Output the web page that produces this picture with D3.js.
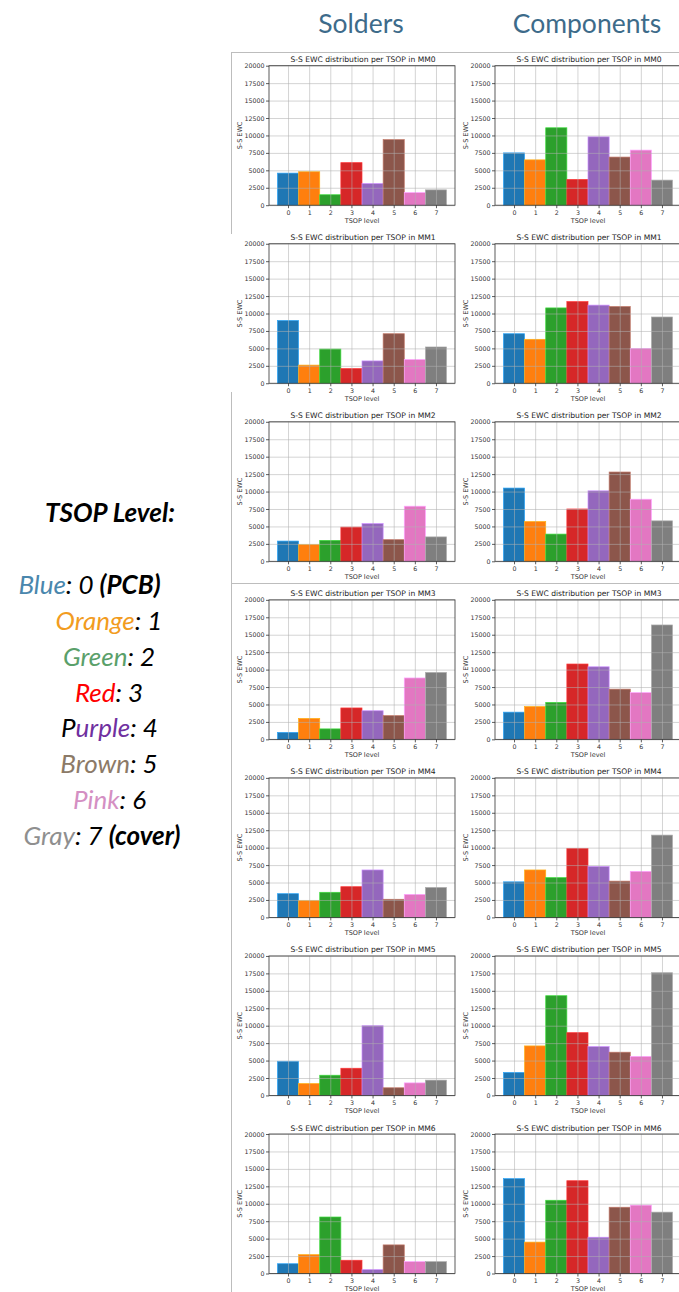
<!DOCTYPE html>
<html>
<head>
<meta charset="utf-8">
<script src="https://cdn.jsdelivr.net/npm/d3@7"></script>
<style>
body { margin: 0; background: #fff; }
svg { display: block; }
.tick text { font-family: "DejaVu Sans", sans-serif; font-size: 6.3px; fill: #333; }
</style>
</head>
<body>
<div id="chart-area"></div>
<script>
// TSOP levels on the x axis of every panel
var levels = [0, 1, 2, 3, 4, 5, 6, 7];
var mmNames = ["MM0", "MM1", "MM2", "MM3", "MM4", "MM5", "MM6"];
var yTicks = [0, 2500, 5000, 7500, 10000, 12500, 15000, 17500, 20000];
var columnTitles = ["Solders", "Components"];

// S-S EWC per TSOP level, one row per MM
var solders = [
    [4600, 4800, 1500, 6100, 3100, 9400, 1800, 2200],
    [9000, 2600, 4900, 2100, 3200, 7100, 3400, 5200],
    [2900, 2400, 3000, 4900, 5400, 3100, 7900, 3500],
    [1000, 3000, 1500, 4500, 4100, 3400, 8800, 9600],
    [3400, 2400, 3600, 4400, 6800, 2600, 3300, 4300],
    [4900, 1700, 2900, 3900, 10000, 1100, 1800, 2200],
    [1400, 2700, 8100, 1900, 550, 4100, 1700, 1700]
];
var components = [
    [7500, 6500, 11100, 3700, 9800, 6900, 7900, 3600],
    [7100, 6300, 10800, 11700, 11200, 11000, 5000, 9500],
    [10500, 5700, 3900, 7500, 10100, 12800, 8900, 5800],
    [3900, 4700, 5300, 10800, 10400, 7200, 6700, 16400],
    [5100, 6800, 5700, 9900, 7300, 5200, 6600, 11800],
    [3300, 7100, 14300, 9000, 7000, 6200, 5600, 17600],
    [13600, 4500, 10500, 13300, 5200, 9500, 9800, 8800]
];

var legendNames = ["Blue", "Orange", "Green", "Red", "Purple", "Brown", "Pink", "Gray"];
var legendNotes = ["(PCB)", "", "", "", "", "", "", "(cover)"];

// styles
var barColors = d3.schemeCategory10;
var legendColors = ["#4a87ad", "#f29c1f", "#5aa06a", "#ff0000", "#7030a0", "#8c7a67", "#d48fc3", "#8f8f8f"];

var width = 679;
var height = 1292;

var svg = d3.select("#chart-area")
    .append("svg")
    .attr("width", width)
    .attr("height", height);

// layout
var colLeft = [269, 495];
var rowTop = 65.7;
var rowStep = 178.05;
var plotW = 186;
var plotH = 139.5;

// slide frame lines
var frame = svg.append("g").attr("stroke", "#bdbdbd").attr("stroke-width", 1);
frame.append("line").attr("x1", 231.5).attr("x2", 231.5).attr("y1", 52).attr("y2", 234);
frame.append("line").attr("x1", 231.5).attr("x2", 231.5).attr("y1", 392).attr("y2", 1292);
frame.append("line").attr("x1", 231).attr("x2", 679).attr("y1", 52.5).attr("y2", 52.5);
frame.append("line").attr("x1", 231).attr("x2", 679).attr("y1", 583.5).attr("y2", 583.5);

// column headers
svg.selectAll("text.col-title")
    .data(columnTitles)
    .enter()
    .append("text")
    .attr("class", "col-title")
    .attr("x", (d, i) => colLeft[i] + plotW / 2 - 1)
    .attr("y", 33)
    .attr("text-anchor", "middle")
    .attr("font-family", "Lato, sans-serif")
    .attr("font-size", "26.5px")
    .attr("fill", "#3d6b8a")
    .text((d) => d);

function drawPanel(left, top, values, mm) {
    var x = d3.scaleLinear()
        .domain([-0.9, 7.9])
        .range([left, left + plotW]);

    var y = d3.scaleLinear()
        .domain([0, 20000])
        .range([top + plotH, top]);

    var g = svg.append("g");

    g.selectAll("rect.bar")
        .data(values)
        .enter()
        .append("rect")
        .attr("class", "bar")
        .attr("x", (d, i) => x(levels[i] - 0.5))
        .attr("y", (d) => y(d))
        .attr("width", x(1) - x(0))
        .attr("height", (d) => y(0) - y(d))
        .attr("fill", (d, i) => barColors[i])
        .attr("stroke", (d, i) => d3.color(barColors[i]).brighter(0.9))
        .attr("stroke-width", 0.7);

    // grid lines on top of the bars
    var xGrid = d3.axisBottom(x).tickValues(levels).tickSize(-plotH).tickFormat("");
    var yGrid = d3.axisLeft(y).tickValues(yTicks).tickSize(-plotW).tickFormat("");

    g.append("g")
        .attr("class", "grid")
        .attr("transform", "translate(0, " + (top + plotH) + ")")
        .call(xGrid);
    g.append("g")
        .attr("class", "grid")
        .attr("transform", "translate(" + left + ", 0)")
        .call(yGrid);
    g.selectAll(".grid .domain").remove();
    g.selectAll(".grid line")
        .attr("stroke", "#b0b0b0")
        .attr("stroke-opacity", 0.55)
        .attr("stroke-width", 1);

    var botAxis = d3.axisBottom(x).tickValues(levels).tickSize(3).tickPadding(2.5);
    var leftAxis = d3.axisLeft(y).tickValues(yTicks).tickFormat(d3.format("d")).tickSize(3).tickPadding(1.5);

    g.append("g")
        .attr("class", "bottom axis")
        .attr("transform", "translate(0, " + (top + plotH) + ")")
        .call(botAxis);
    g.append("g")
        .attr("class", "left axis")
        .attr("transform", "translate(" + left + ", 0)")
        .call(leftAxis);
    g.selectAll(".axis .domain").remove();
    g.selectAll(".axis line").attr("stroke", "#333").attr("stroke-width", 0.8);

    g.append("rect")
        .attr("x", left)
        .attr("y", top)
        .attr("width", plotW)
        .attr("height", plotH)
        .attr("fill", "none")
        .attr("stroke", "#333")
        .attr("stroke-width", 0.8);

    g.append("text")
        .attr("x", left + plotW / 2 + 1)
        .attr("y", top - 3.5)
        .attr("text-anchor", "middle")
        .attr("font-family", "DejaVu Sans, sans-serif")
        .attr("font-size", "7.6px")
        .attr("fill", "#222")
        .text("S-S EWC distribution per TSOP in " + mm);

    g.append("text")
        .attr("x", left + plotW / 2)
        .attr("y", top + plotH + 17.5)
        .attr("text-anchor", "middle")
        .attr("font-family", "DejaVu Sans, sans-serif")
        .attr("font-size", "6.5px")
        .attr("fill", "#333")
        .text("TSOP level");

    g.append("text")
        .attr("transform", "translate(" + (left - 29) + ", " + (top + plotH / 2) + ") rotate(-90)")
        .attr("dy", "0.35em")
        .attr("text-anchor", "middle")
        .attr("font-family", "DejaVu Sans, sans-serif")
        .attr("font-size", "6.5px")
        .attr("fill", "#333")
        .text("S-S EWC");
}

mmNames.forEach((mm, r) => {
    drawPanel(colLeft[0], rowTop + r * rowStep, solders[r], mm);
    drawPanel(colLeft[1], rowTop + r * rowStep, components[r], mm);
});

// legend on the left
var legend = svg.append("g")
    .attr("font-family", "Lato, sans-serif")
    .attr("font-size", "26px")
    .attr("font-style", "italic");

legend.append("text")
    .attr("x", 110)
    .attr("y", 522)
    .attr("text-anchor", "middle")
    .attr("font-weight", "bold")
    .attr("fill", "#000")
    .text("TSOP Level:");

var lineX = [89.5, 109, 109, 109, 109.5, 109, 109.5, 102];

legendNames.forEach((name, i) => {
    var t = legend.append("text")
        .attr("x", lineX[i])
        .attr("y", 594 + i * 35.85)
        .attr("text-anchor", "middle")
        .attr("fill", "#000");
    if (name == "Purple") {
        t.append("tspan").text("P");
        t.append("tspan").attr("fill", legendColors[i]).text("urple");
    } else {
        t.append("tspan").attr("fill", legendColors[i]).text(name);
    }
    t.append("tspan").text(": " + levels[i] + (legendNotes[i] ? " " : ""));
    if (legendNotes[i]) {
        t.append("tspan").attr("font-weight", "bold").text(legendNotes[i]);
    }
});
</script>
</body>
</html>
